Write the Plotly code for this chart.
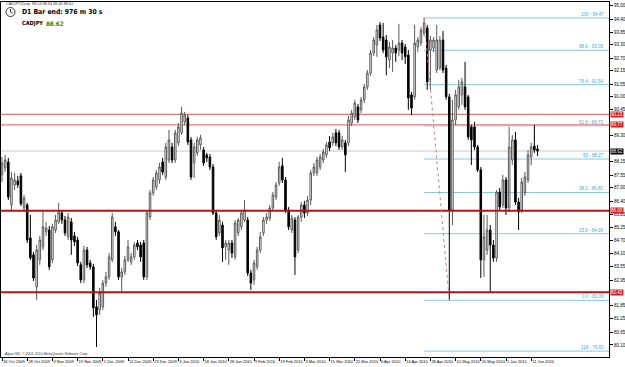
import plotly.graph_objects as go

# ---------------- data ----------------
opens = [87.57, 87.88, 88.14, 86.25, 87.13, 87.31, 87.53, 86.12, 86.25, 84.80,
         84.06, 82.65, 83.84, 84.41, 85.07, 85.15, 83.84, 85.15, 85.51, 85.90,
         85.59, 84.85, 85.51, 84.89, 84.71, 83.62, 82.96, 84.27, 83.70, 83.53,
         81.77, 81.64, 81.77, 82.82, 83.09, 83.84, 85.29, 85.07, 83.09, 83.31,
         83.84, 83.75, 83.97, 84.58, 84.49, 84.58, 83.09, 85.72, 86.78, 87.04,
         87.35, 88.14, 87.48, 88.23, 88.80, 88.23, 88.98, 89.42, 89.90, 90.07,
         89.11, 88.10, 88.54, 88.89, 88.67, 88.45, 88.36, 87.92, 85.90, 85.02,
         85.37, 84.41, 84.27, 84.58, 83.97, 85.02, 85.29, 85.59, 85.59, 83.26,
         82.96, 83.53, 84.27, 85.02, 85.59, 85.68, 86.12, 86.60, 87.22, 87.97,
         87.35, 86.03, 85.15, 85.59, 84.27, 85.72, 86.25, 85.90, 86.47, 87.66,
         87.66, 87.92, 88.23, 88.45, 89.02, 88.98, 89.42, 89.42, 88.80, 88.98,
         88.98, 89.85, 90.12, 90.56, 90.43, 90.87, 91.44, 92.05, 92.93, 93.28,
         94.16, 93.63, 93.50, 92.62, 92.93, 93.15, 93.06, 93.37, 93.19, 92.84,
         91.09, 91.00, 93.19, 93.37, 93.81, 94.03, 93.06, 93.15, 92.18, 92.27,
         93.50, 92.27, 91.00, 86.03, 89.99, 90.56, 91.09, 91.44, 91.00, 89.68,
         89.68, 88.80, 87.79, 83.84, 84.27, 85.15, 84.49, 83.92, 86.82, 86.25,
         87.35, 86.12, 88.23, 89.11, 86.38, 86.03, 86.78, 87.35, 88.36, 88.84,
         88.71]
highs = [88.36, 88.45, 88.32, 87.70, 87.66, 87.53, 87.66, 86.69, 86.34, 85.81,
         84.19, 84.49, 84.89, 85.94, 85.51, 85.33, 85.42, 85.81, 86.34, 86.03,
         85.77, 85.90, 85.68, 85.07, 84.85, 83.75, 84.45, 84.41, 83.84, 83.66,
         82.08, 82.61, 82.96, 83.31, 84.14, 85.90, 85.51, 85.15, 83.48, 84.01,
         84.71, 84.14, 84.63, 84.71, 84.63, 84.71, 86.03, 86.91, 87.48, 87.79,
         88.10, 88.32, 88.98, 89.55, 88.98, 89.55, 89.85, 90.56, 90.34, 90.21,
         89.24, 88.98, 89.24, 89.33, 88.80, 88.54, 88.49, 88.05, 86.03, 85.81,
         85.51, 84.71, 84.71, 84.71, 85.59, 85.68, 86.03, 86.47, 85.72, 83.40,
         83.84, 84.41, 85.07, 85.72, 85.90, 86.25, 86.82, 87.26, 88.14, 88.32,
         87.48, 86.16, 85.81, 85.72, 85.81, 86.38, 86.43, 86.65, 87.79, 88.10,
         88.36, 88.49, 88.71, 89.02, 89.28, 89.42, 89.59, 89.55, 89.28, 89.11,
         90.16, 90.43, 90.87, 90.69, 91.00, 91.57, 92.18, 93.06, 93.63, 94.16,
         94.29, 94.25, 93.72, 93.41, 93.50, 93.28, 94.21, 93.50, 93.33, 93.06,
         91.22, 94.16, 93.63, 94.07, 94.47, 94.16, 93.68, 93.63, 94.16, 93.68,
         93.90, 92.40, 91.13, 90.87, 91.31, 91.75, 91.83, 92.54, 91.09, 89.77,
         89.90, 88.89, 87.92, 85.81, 85.81, 85.37, 84.71, 86.91, 87.00, 87.57,
         87.48, 89.68, 89.33, 89.46, 86.56, 87.44, 87.70, 88.67, 88.98, 89.77,
         88.89]
lows = [87.26, 87.70, 86.47, 86.03, 86.91, 87.00, 86.21, 85.94, 84.58, 83.84,
        82.91, 82.08, 83.62, 84.27, 84.89, 83.40, 83.70, 85.02, 85.42, 85.42,
        84.89, 84.71, 84.06, 84.45, 83.57, 82.82, 82.82, 83.48, 83.40, 81.33,
        80.01, 81.42, 81.64, 82.65, 82.96, 83.75, 84.89, 82.96, 82.39, 83.18,
        83.75, 83.62, 83.84, 84.27, 83.75, 82.96, 82.96, 85.59, 86.65, 86.91,
        87.18, 87.57, 87.35, 88.10, 88.10, 88.10, 88.84, 89.33, 89.77, 88.89,
        87.35, 87.44, 88.41, 88.67, 87.97, 88.14, 87.79, 85.81, 84.71, 84.89,
        83.75, 83.84, 83.62, 83.92, 83.84, 84.89, 85.15, 85.51, 83.13, 82.52,
        82.74, 83.40, 84.14, 84.89, 85.42, 85.55, 85.99, 86.47, 87.09, 87.22,
        85.90, 85.15, 85.02, 83.18, 84.14, 85.51, 85.68, 85.77, 86.25, 87.53,
        87.53, 87.79, 88.10, 88.32, 88.62, 88.84, 88.84, 88.67, 88.67, 87.70,
        88.84, 89.72, 89.99, 89.85, 90.29, 90.73, 91.31, 91.92, 92.80, 92.76,
        93.46, 92.93, 91.96, 92.27, 92.10, 92.54, 92.80, 92.62, 92.45, 90.43,
        90.21, 90.87, 92.97, 93.24, 93.68, 91.31, 91.31, 92.97, 92.05, 92.18,
        92.05, 90.87, 82.08, 85.37, 89.77, 90.43, 90.65, 90.43, 89.11, 88.01,
        88.67, 87.70, 83.04, 83.09, 84.06, 82.43, 83.75, 83.75, 86.03, 86.12,
        85.81, 85.94, 88.01, 86.25, 85.15, 85.90, 86.65, 87.22, 88.01, 88.54,
        88.41]
closes = [88.10, 88.23, 86.60, 87.44, 87.35, 87.13, 86.30, 86.56, 84.71, 83.92,
          83.04, 84.27, 84.71, 85.29, 85.24, 83.53, 85.29, 85.59, 85.94, 85.59,
          85.02, 85.72, 84.71, 84.63, 83.70, 82.96, 84.27, 83.62, 83.53, 81.73,
          81.42, 82.39, 82.82, 83.09, 83.97, 85.72, 85.07, 83.09, 83.31, 83.84,
          84.41, 83.97, 84.49, 84.41, 83.97, 83.09, 85.90, 86.78, 87.35, 87.66,
          87.92, 87.70, 88.80, 89.11, 88.23, 89.42, 89.68, 90.29, 90.21, 89.02,
          87.48, 88.80, 89.11, 89.20, 88.10, 88.32, 87.92, 85.90, 84.85, 85.59,
          84.36, 84.58, 84.58, 84.14, 85.46, 85.59, 85.90, 86.03, 83.26, 82.82,
          83.70, 84.27, 84.85, 85.59, 85.72, 86.12, 86.69, 87.13, 87.92, 87.35,
          86.03, 85.29, 85.68, 83.97, 85.72, 86.25, 85.90, 86.47, 87.66, 87.92,
          88.23, 88.36, 88.58, 88.89, 88.76, 89.24, 88.98, 88.80, 89.11, 88.45,
          89.99, 90.29, 90.73, 89.99, 90.87, 91.44, 92.05, 92.93, 93.50, 93.94,
          93.59, 93.06, 92.76, 93.19, 93.15, 92.93, 93.37, 92.93, 92.76, 90.95,
          90.51, 93.37, 93.50, 93.94, 94.25, 91.66, 93.50, 93.50, 93.50, 93.50,
          92.18, 91.00, 86.03, 89.99, 91.09, 91.44, 91.66, 90.56, 89.24, 89.11,
          88.80, 87.79, 83.84, 84.85, 85.15, 84.49, 83.92, 86.82, 86.16, 87.35,
          86.12, 88.80, 89.11, 86.38, 85.94, 87.26, 87.48, 88.45, 88.80, 88.67,
          88.62]

date_labels = ["16 Oct 2009", "28 Oct 2009", "9 Nov 2009", "19 Nov 2009", "1 Dec 2009",
               "11 Dec 2009", "23 Dec 2009", "6 Jan 2010", "18 Jan 2010", "28 Jan 2010",
               "9 Feb 2010", "19 Feb 2010", "3 Mar 2010", "15 Mar 2010", "25 Mar 2010",
               "6 Apr 2010", "16 Apr 2010", "28 Apr 2010", "10 May 2010", "20 May 2010",
               "1 Jun 2010", "11 Jun 2010"]
date_bar_index = [8 * k for k in range(len(date_labels))]

# axis price labels that are visible (the others sit under the coloured price boxes)
price_ticks = [95.00, 94.40, 93.85, 93.30, 92.70, 92.15, 91.55, 91.00, 90.45,
               89.30, 88.15, 87.55, 87.00, 86.40, 85.85, 85.25, 84.70, 84.10,
               83.55, 82.95, 81.85, 81.25, 80.65, 80.10, 79.55]

fib_labels = ["100 - 94.47", "88.6 - 93.05", "76.4 - 91.54", "61.8 - 89.73", "50 - 88.27",
              "38.2 - 86.80", "23.6 - 84.99", "0.0 - 82.06", "118 - 79.83"]
fib_prices = [94.47, 93.05, 91.54, 89.73, 88.27, 86.80, 84.99, 82.06, 79.83]
fib_anchor_bars = [134, 142]          # high bar -> low bar of the fibo tool

light_levels = [90.23, 89.77]         # thin red horizontal lines
strong_levels = [86.00, 82.42]        # thick dark-red horizontal lines
last_price = 88.62
symbol = "CADJPY"
header = "CADJPY,Daily  88.54 88.64 88.40 88.62"

# ---------------- figure ----------------
n = len(closes)
xs = list(range(n))
X_MIN, X_MAX = -0.32, 192.7
Y_MIN, Y_MAX = 79.57, 95.17

fig = go.Figure()
fig.add_trace(go.Candlestick(
    x=xs, open=opens, high=highs, low=lows, close=closes,
    increasing=dict(fillcolor="white", line=dict(color="#5a5a5a", width=1)),
    decreasing=dict(fillcolor="black", line=dict(color="black", width=1)),
    whiskerwidth=0, showlegend=False, hoverinfo="skip"))

shapes = []
shapes.append(dict(type="line", xref="x", yref="y", x0=X_MIN, x1=X_MAX,
                   y0=last_price, y1=last_price, line=dict(color="#c8c8c8", width=1), layer="below"))
for lv in light_levels:
    shapes.append(dict(type="line", xref="x", yref="y", x0=X_MIN, x1=X_MAX, y0=lv, y1=lv,
                       line=dict(color="#e07878", width=1.3), layer="below"))
for lv in strong_levels:
    shapes.append(dict(type="line", xref="x", yref="y", x0=X_MIN, x1=X_MAX, y0=lv, y1=lv,
                       line=dict(color="#b01515", width=2), layer="above"))
for p in fib_prices:
    shapes.append(dict(type="line", xref="x", yref="y", x0=fib_anchor_bars[0], x1=X_MAX,
                       y0=p, y1=p, line=dict(color="#86c8e0", width=1), layer="below"))
shapes.append(dict(type="line", xref="x", yref="y", x0=fib_anchor_bars[0], x1=fib_anchor_bars[1],
                   y0=fib_prices[0], y1=fib_prices[7],
                   line=dict(color="#c88080", width=1, dash="dot")))
# clock icon
shapes.append(dict(type="circle", xref="paper", yref="paper",
                   x0=5/608, x1=14/608, y0=(357-16.5)/355, y1=(357-7.5)/355,
                   line=dict(color="#333333", width=1)))
shapes.append(dict(type="line", xref="paper", yref="paper",
                   x0=9.5/608, x1=9.5/608, y0=(357-12)/355, y1=(357-9)/355,
                   line=dict(color="#333333", width=1)))
shapes.append(dict(type="line", xref="paper", yref="paper",
                   x0=9.5/608, x1=11.5/608, y0=(357-12)/355, y1=(357-13)/355,
                   line=dict(color="#333333", width=1)))

annotations = []
for lab, p in zip(fib_labels, fib_prices):
    annotations.append(dict(x=0.995, xref="paper", y=p, yref="y", text=lab, showarrow=False,
                            xanchor="right", yanchor="bottom", yshift=-1,
                            font=dict(family="Liberation Sans, Arial", size=4.5, color="#4aa8cc")))
for lv in light_levels + strong_levels:
    annotations.append(dict(x=1.002, xref="paper", y=lv, yref="y", text="%.2f" % lv, showarrow=False,
                            xanchor="left", yanchor="middle", bgcolor="#d42020", borderpad=0,
                            font=dict(family="Liberation Sans, Arial", size=4.5, color="white")))
annotations.append(dict(x=1.002, xref="paper", y=last_price, yref="y", text="%.2f" % last_price,
                        showarrow=False, xanchor="left", yanchor="middle", bgcolor="black", borderpad=0,
                        font=dict(family="Liberation Sans, Arial", size=4.5, color="white")))
annotations.append(dict(x=3/608, xref="paper", y=(357-4)/355, yref="paper", text=header,
                        showarrow=False, xanchor="left", yanchor="middle",
                        font=dict(family="Liberation Sans, Arial", size=3.8, color="#333333")))
annotations.append(dict(x=19/608, xref="paper", y=(357-12)/355, yref="paper",
                        text="<b>D1 Bar end: 976 m 30 s</b>", showarrow=False,
                        xanchor="left", yanchor="middle",
                        font=dict(family="DejaVu Sans Condensed, Liberation Sans Narrow, Arial",
                                  size=6.8, color="black")))
annotations.append(dict(x=19/608, xref="paper", y=(357-23)/355, yref="paper",
                        text="<b>%s</b>" % symbol, showarrow=False, xanchor="left", yanchor="middle",
                        font=dict(family="DejaVu Sans Condensed, Liberation Sans Narrow, Arial",
                                  size=5.6, color="black")))
annotations.append(dict(x=43/608, xref="paper", y=(357-23)/355, yref="paper",
                        text="<b>%.2f</b>" % last_price, showarrow=False, xanchor="left", yanchor="middle",
                        font=dict(family="DejaVu Sans Condensed, Liberation Sans Narrow, Arial",
                                  size=6.2, color="#1c8c1c")))
annotations.append(dict(x=2/608, xref="paper", y=(357-354)/355, yref="paper",
                        text="Alpari NZ, © 2001-2010 MetaQuotes Software Corp.", showarrow=False,
                        xanchor="left", yanchor="middle",
                        font=dict(family="Liberation Sans, Arial", size=3.6, color="#333333")))

fig.update_layout(
    width=625, height=367,
    margin=dict(l=1, r=16, t=2, b=10, autoexpand=False),
    paper_bgcolor="white", plot_bgcolor="white",
    shapes=shapes, annotations=annotations,
    xaxis=dict(range=[X_MIN, X_MAX], rangeslider=dict(visible=False), showgrid=False, zeroline=False,
               tickmode="array", tickvals=date_bar_index, ticktext=date_labels,
               ticks="outside", ticklen=3, tickcolor="black", ticklabelposition="outside right",
               tickangle=0, automargin=False,
               tickfont=dict(family="Liberation Sans, Arial", size=4, color="black"),
               showline=True, linecolor="black", linewidth=1, mirror=True),
    yaxis=dict(range=[Y_MIN, Y_MAX], side="right", showgrid=False, zeroline=False,
               tickmode="array", tickvals=price_ticks, ticktext=["%.2f" % t for t in price_ticks],
               ticks="outside", ticklen=3, tickcolor="black", automargin=False,
               tickfont=dict(family="Liberation Sans, Arial", size=4.5, color="black"),
               showline=True, linecolor="black", linewidth=1, mirror=True),
)

fig.write_html("out.html")
